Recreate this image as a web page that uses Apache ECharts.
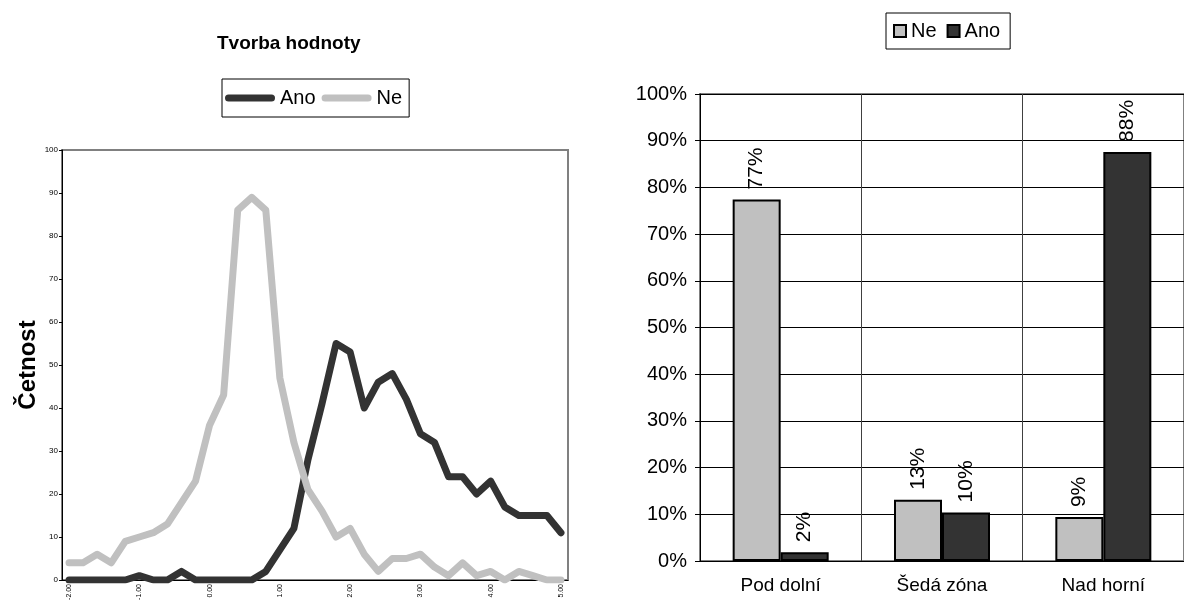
<!DOCTYPE html>
<html>
<head>
<meta charset="utf-8">
<script src="https://cdn.jsdelivr.net/npm/echarts@6/dist/echarts.min.js"></script>
<style>
  html, body { margin: 0; padding: 0; background: #fff; }
  #wrap { position: relative; width: 1184px; height: 606px; overflow: hidden; }
  #left { position: absolute; left: 0; top: 0; width: 590px; height: 606px; }
  #right { position: absolute; left: 590px; top: 0; width: 594px; height: 606px; }
</style>
</head>
<body>
<div id="wrap">
  <div id="left"></div>
  <div id="right"></div>
</div>
<script>
// Frequency distribution (left chart)
const bins = ['-2.00','-1.80','-1.60','-1.40','-1.20','-1.00','-0.80','-0.60','-0.40','-0.20',
              '0.00','0.20','0.40','0.60','0.80','1.00','1.20','1.40','1.60','1.80',
              '2.00','2.20','2.40','2.60','2.80','3.00','3.20','3.40','3.60','3.80',
              '4.00','4.20','4.40','4.60','4.80','5.00'];
const freqAno = [0,0,0,0,0,1,0,0,2,0, 0,0,0,0,2,7,12,28,41,55, 53,40,46,48,42,34,32,24,24,20, 23,17,15,15,15,11];
const freqNe  = [4,4,6,4,9,10,11,13,18,23, 36,43,86,89,86,47,32,21,16,10, 12,6,2,5,5,6,3,1,4,1, 2,0,2,1,0,0];

// Share by zone (right chart), in percent
const zones = ['Pod dolní', 'Šedá zóna', 'Nad horní'];
const shareNe  = [77.4, 13.1, 9.4];
const shareAno = [1.9, 10.4, 87.6];

const FONT = "'Liberation Sans', Arial, sans-serif";
const DARK = '#333333';
const LIGHT = '#c0c0c0';
// thick line with rounded ends, used as the legend key of the line chart
const CAPSULE = 'path://M3.5,0 L46.5,0 A3.5,3.5 0 0 1 46.5,7 L3.5,7 A3.5,3.5 0 0 1 3.5,0 Z';

const left = echarts.init(document.getElementById('left'), null, { renderer: 'canvas' });
left.setOption({
  animation: false,
  textStyle: { fontFamily: FONT },
  title: {
    text: 'Tvorba hodnoty',
    left: 212, top: 29,
    textStyle: { fontFamily: FONT, fontSize: 19, fontWeight: 'bold', color: '#000' }
  },
  legend: {
    data: [
      { name: 'Ano', icon: CAPSULE, itemStyle: { color: DARK } },
      { name: 'Ne', icon: CAPSULE, itemStyle: { color: LIGHT } }
    ],
    left: 222, top: 79,
    orient: 'horizontal',
    borderColor: '#000', borderWidth: 1,
    padding: [9, 7, 9, 3],
    itemWidth: 50, itemHeight: 7, itemGap: 6,
    textStyle: { fontFamily: FONT, fontSize: 20, color: '#000' }
  },
  grid: {
    left: 62, right: 22, top: 150, bottom: 26,
    show: true, borderColor: '#808080', borderWidth: 2, backgroundColor: '#fff'
  },
  xAxis: {
    type: 'category',
    data: bins,
    boundaryGap: true,
    axisLine: { lineStyle: { color: '#000', width: 1 } },
    axisTick: { interval: 0, length: 4, lineStyle: { color: '#000' } },
    axisLabel: { interval: 4, rotate: 90, fontSize: 7, margin: 4, color: '#000', fontFamily: FONT },
    splitLine: { show: false }
  },
  yAxis: {
    type: 'value',
    min: 0, max: 100, interval: 10,
    name: 'Četnost',
    nameLocation: 'middle',
    nameGap: 22,
    nameMoveOverlap: false,
    nameTextStyle: { fontFamily: FONT, fontSize: 24, fontWeight: 'bold', color: '#000' },
    axisLine: { show: true, lineStyle: { color: '#000', width: 1 } },
    axisTick: { show: true, length: 3, lineStyle: { color: '#000' } },
    axisLabel: { fontSize: 8, margin: 4, color: '#000', fontFamily: FONT },
    splitLine: { show: false }
  },
  series: [
    {
      name: 'Ano', type: 'line', data: freqAno,
      symbol: 'none', color: DARK,
      lineStyle: { width: 7, color: DARK, cap: 'round', join: 'round' }
    },
    {
      name: 'Ne', type: 'line', data: freqNe,
      symbol: 'none', color: LIGHT,
      lineStyle: { width: 7, color: LIGHT, cap: 'round', join: 'round' }
    }
  ]
});

const right = echarts.init(document.getElementById('right'), null, { renderer: 'canvas' });
const barLabel = {
  show: true, position: 'top', rotate: 90, align: 'left', verticalAlign: 'middle',
  distance: 10, fontSize: 21, color: '#000', fontFamily: FONT,
  formatter: p => Math.round(p.value) + '%'
};
right.setOption({
  animation: false,
  textStyle: { fontFamily: FONT },
  legend: {
    data: [
      { name: 'Ne', icon: 'rect', itemStyle: { color: LIGHT, borderColor: '#000', borderWidth: 2 } },
      { name: 'Ano', icon: 'rect', itemStyle: { color: DARK, borderColor: '#000', borderWidth: 2 } }
    ],
    left: 296, top: 13,
    borderColor: '#000', borderWidth: 1,
    padding: [8, 10, 8, 7],
    itemWidth: 12, itemHeight: 12, itemGap: 10,
    textStyle: { fontFamily: FONT, fontSize: 20, color: '#000' }
  },
  grid: {
    left: 110, right: -11, top: 94, bottom: 45,
    show: true, borderColor: '#808080', borderWidth: 2, backgroundColor: '#fff'
  },
  xAxis: {
    type: 'category',
    data: zones,
    axisLine: { lineStyle: { color: '#000', width: 1 } },
    axisTick: { interval: 0, length: 7, lineStyle: { color: '#000' } },
    axisLabel: { fontSize: 19, margin: 15, color: '#000', fontFamily: FONT },
    splitLine: { show: true, interval: 0, lineStyle: { color: '#404040', width: 1 } }
  },
  yAxis: {
    type: 'value',
    min: 0, max: 100, interval: 10,
    axisLine: { show: true, lineStyle: { color: '#000', width: 1 } },
    axisTick: { show: true, length: 5, lineStyle: { color: '#000' } },
    axisLabel: { fontSize: 20, margin: 13, color: '#000', fontFamily: FONT, formatter: '{value}%' },
    splitLine: { show: true, lineStyle: { color: '#000', width: 1 } }
  },
  series: [
    {
      name: 'Ne', type: 'bar', data: shareNe,
      barWidth: 48, barGap: '0%',
      itemStyle: { color: LIGHT, borderColor: '#000', borderWidth: 2 },
      label: barLabel
    },
    {
      name: 'Ano', type: 'bar', data: shareAno,
      barWidth: 48, barGap: '0%',
      itemStyle: { color: DARK, borderColor: '#000', borderWidth: 2 },
      label: barLabel
    }
  ]
});
</script>
</body>
</html>
